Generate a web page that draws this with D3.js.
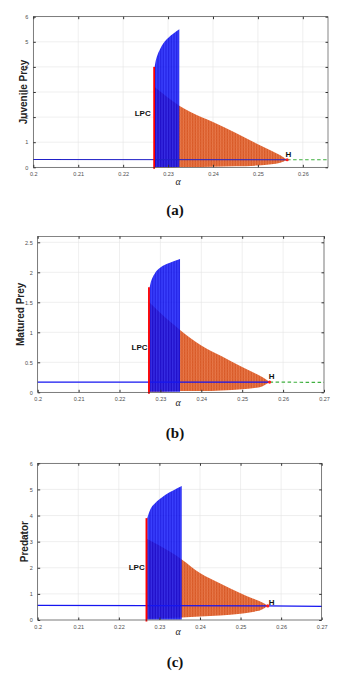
<!DOCTYPE html>
<meta charset="utf-8">
<style>
body { margin: 0; background: #fff; }
svg { display: block; }
.tick text { font-family: "Liberation Sans", Arial, sans-serif; font-size: 5.5px; fill: #4d4d4d; }
.ytitle { font-family: "Liberation Sans", Arial, sans-serif; font-size: 10px; font-weight: bold; fill: #222; }
.xtitle { font-family: "Liberation Serif", "DejaVu Serif", serif; font-size: 10px; font-style: italic; fill: #222; }
.tag { font-family: "Liberation Sans", Arial, sans-serif; font-size: 8px; font-weight: bold; fill: #111; }
.sub { font-family: "Liberation Serif", "DejaVu Serif", serif; font-size: 15px; font-weight: bold; fill: #111; }
</style>
<body>
<script src="https://d3js.org/d3.v7.min.js"></script>
<script>

// ---- data ----
var panelLabels = ["(a)", "(b)", "(c)"];
var yTitles = ["Juvenile Prey", "Matured Prey", "Predator"];

var xTicksA = [0.2, 0.21, 0.22, 0.23, 0.24, 0.25, 0.26];
var xTicksBC = [0.2, 0.21, 0.22, 0.23, 0.24, 0.25, 0.26, 0.27];
var yTicksA = [0, 1, 2, 3, 4, 5, 6];
var yTicksB = [0, 0.5, 1, 1.5, 2, 2.5];
var yTicksC = [0, 1, 2, 3, 4, 5, 6];

// (a) juvenile prey
var juvStableAlpha = [0.2270, 0.2272, 0.2276, 0.2282, 0.2290, 0.2300, 0.2312, 0.2325];
var juvStableMax   = [4.0, 4.2, 4.45, 4.7, 4.95, 5.15, 5.33, 5.5];
var juvStableMin   = [0.01, 0.01, 0.01, 0.01, 0.01, 0.01, 0.01, 0.01];
var juvUnstableAlpha = [0.2270, 0.2298, 0.2325, 0.2350, 0.2400, 0.2450, 0.2500, 0.2530, 0.2550, 0.2565];
var juvUnstableMax   = [3.2, 2.8, 2.45, 2.2, 1.8, 1.38, 0.92, 0.66, 0.48, 0.3];
var juvUnstableMin   = [0.0, 0.0, 0.01, 0.01, 0.02, 0.04, 0.07, 0.12, 0.18, 0.3];
var juvEqAlpha = [0.2, 0.2565];
var juvEqValue = [0.31, 0.3];
var juvUnstEqAlpha = [0.2565, 0.2656];
var juvUnstEqValue = [0.3, 0.3];
var juvLPC = [0.2269, 4.0];
var juvHopf = [0.2565, 0.3];

// (b) matured prey
var matStableAlpha = [0.2273, 0.2276, 0.2280, 0.2287, 0.2300, 0.2320, 0.2348];
var matStableMax   = [1.72, 1.82, 1.9, 1.99, 2.08, 2.15, 2.22];
var matStableMin   = [0.01, 0.01, 0.01, 0.01, 0.01, 0.01, 0.01];
var matUnstableAlpha = [0.2273, 0.2300, 0.2348, 0.2400, 0.2450, 0.2500, 0.2530, 0.2550, 0.2567];
var matUnstableMax   = [1.5, 1.32, 1.04, 0.78, 0.6, 0.42, 0.32, 0.25, 0.17];
var matUnstableMin   = [0.01, 0.01, 0.02, 0.02, 0.03, 0.05, 0.07, 0.1, 0.17];
var matEqAlpha = [0.2, 0.2567];
var matEqValue = [0.17, 0.17];
var matUnstEqAlpha = [0.2567, 0.27];
var matUnstEqValue = [0.17, 0.165];
var matLPC = [0.2272, 1.75];
var matHopf = [0.2567, 0.17];

// (c) predator
var predStableAlpha = [0.2270, 0.2273, 0.2278, 0.2288, 0.2300, 0.2315, 0.2335, 0.2355];
var predStableMax   = [3.9, 4.05, 4.25, 4.45, 4.62, 4.8, 4.97, 5.13];
var predStableMin   = [0.02, 0.02, 0.02, 0.02, 0.02, 0.02, 0.02, 0.02];
var predUnstableAlpha = [0.2270, 0.2300, 0.2355, 0.2400, 0.2450, 0.2500, 0.2530, 0.2550, 0.2567];
var predUnstableMax   = [3.1, 2.85, 2.32, 1.8, 1.4, 1.02, 0.82, 0.7, 0.55];
var predUnstableMin   = [0.05, 0.07, 0.1, 0.13, 0.17, 0.24, 0.31, 0.38, 0.55];
var predEqAlpha = [0.2, 0.2567, 0.27];
var predEqValue = [0.56, 0.54, 0.52];
var predLPC = [0.2268, 3.9];
var predHopf = [0.2567, 0.54];

// ---- layout ----
var W = 347, H = 674;
var svg = d3.select("body").append("svg").attr("width", W).attr("height", H);

var defs = svg.append("defs");
var op = defs.append("pattern").attr("id", "orangeHatch")
    .attr("patternUnits", "userSpaceOnUse").attr("width", 1.6).attr("height", 3);
op.append("rect").attr("width", 1.6).attr("height", 3).attr("fill", "#e87444");
op.append("rect").attr("width", 0.8).attr("height", 3).attr("fill", "#d44e18");
op.append("rect").attr("width", 1.6).attr("height", 0.6).attr("fill", "#de6430").attr("opacity", 0.6);

var bp = defs.append("pattern").attr("id", "blueHatch")
    .attr("patternUnits", "userSpaceOnUse").attr("width", 1.6).attr("height", 3);
bp.append("rect").attr("width", 1.6).attr("height", 3).attr("fill", "#1c24ff");
bp.append("rect").attr("width", 0.8).attr("height", 3).attr("fill", "#0000e0");

function zip(a, b, c) {
  return a.map(function(d, i) { return {x: d, hi: b[i], lo: c ? c[i] : 0}; });
}

var panels = [
  {box: [33.3, 16.7, 328, 167.3], xDom: [0.2, 0.2656], yDom: [0, 6], xTicks: xTicksA, yTicks: yTicksA,
   stable: zip(juvStableAlpha, juvStableMax, juvStableMin),
   unstable: zip(juvUnstableAlpha, juvUnstableMax, juvUnstableMin),
   eq: zip(juvEqAlpha, juvEqValue), eqColor: "#2020c8",
   unEq: zip(juvUnstEqAlpha, juvUnstEqValue),
   lpc: juvLPC, hopf: juvHopf, lpcPos: [142.7, 116], hPos: [288.5, 157],
   yTitleX: 23, xTitleY: 185, subY: 215},
  {box: [37.7, 236.3, 324, 392.3], xDom: [0.2, 0.27], yDom: [0, 2.6], xTicks: xTicksBC, yTicks: yTicksB,
   stable: zip(matStableAlpha, matStableMax, matStableMin),
   unstable: zip(matUnstableAlpha, matUnstableMax, matUnstableMin),
   eq: zip(matEqAlpha, matEqValue), eqColor: "#1515f0",
   unEq: zip(matUnstEqAlpha, matUnstEqValue),
   lpc: matLPC, hopf: matHopf, lpcPos: [139.5, 349.5], hPos: [271.7, 378.5],
   yTitleX: 20.7, xTitleY: 406, subY: 438},
  {box: [37.7, 463.3, 321.7, 620], xDom: [0.2, 0.27], yDom: [0, 6], xTicks: xTicksBC, yTicks: yTicksC,
   stable: zip(predStableAlpha, predStableMax, predStableMin),
   unstable: zip(predUnstableAlpha, predUnstableMax, predUnstableMin),
   eq: zip(predEqAlpha, predEqValue), eqColor: "#1515f0",
   unEq: null,
   lpc: predLPC, hopf: predHopf, lpcPos: [136.7, 569.5], hPos: [271.7, 605],
   yTitleX: 24, xTitleY: 634.5, subY: 667}
];

panels.forEach(function(p, i) {
  var x = d3.scaleLinear().domain(p.xDom).range([p.box[0], p.box[2]]);
  var y = d3.scaleLinear().domain(p.yDom).range([p.box[3], p.box[1]]);
  var g = svg.append("g");

  // grid
  g.append("g").selectAll("line").data(p.xTicks).join("line")
    .attr("x1", x).attr("x2", x).attr("y1", p.box[1]).attr("y2", p.box[3])
    .attr("stroke", "#e4e4e4").attr("stroke-width", 0.6);
  g.append("g").selectAll("line").data(p.yTicks).join("line")
    .attr("y1", y).attr("y2", y).attr("x1", p.box[0]).attr("x2", p.box[2])
    .attr("stroke", "#e4e4e4").attr("stroke-width", 0.6);

  var area = d3.area().curve(d3.curveMonotoneX)
    .x(function(d) { return x(d.x); })
    .y0(function(d) { return y(d.lo); })
    .y1(function(d) { return y(d.hi); });

  // unstable limit cycles (orange), stable limit cycles (blue) on top
  g.append("path").datum(p.unstable).attr("d", area)
    .attr("fill", "url(#orangeHatch)").attr("opacity", 0.95);
  g.append("path").datum(p.stable).attr("d", area)
    .attr("fill", "url(#blueHatch)").attr("opacity", 0.86);

  var line = d3.line().x(function(d) { return x(d.x); }).y(function(d) { return y(d.hi); });

  // equilibrium branch
  g.append("path").datum(p.eq).attr("d", line)
    .attr("fill", "none").attr("stroke", p.eqColor).attr("stroke-width", 1.1);
  if (p.unEq) {
    g.append("path").datum(p.unEq).attr("d", line)
      .attr("fill", "none").attr("stroke", "#3fb03f").attr("stroke-width", 1.2)
      .attr("stroke-dasharray", "3.5,2.5");
  }

  // limit point of cycles
  g.append("line")
    .attr("x1", x(p.lpc[0])).attr("x2", x(p.lpc[0]))
    .attr("y1", y(0) + 1.5).attr("y2", y(p.lpc[1]))
    .attr("stroke", "#ff0000").attr("stroke-width", 1.8);

  // Hopf point
  g.append("circle").attr("cx", x(p.hopf[0])).attr("cy", y(p.hopf[1]))
    .attr("r", 1.6).attr("fill", "#ff1a1a");

  g.append("text").attr("class", "tag").attr("x", p.lpcPos[0]).attr("y", p.lpcPos[1])
    .attr("text-anchor", "middle").text("LPC");
  g.append("text").attr("class", "tag").attr("x", p.hPos[0]).attr("y", p.hPos[1])
    .attr("text-anchor", "middle").text("H");

  // axes with inward ticks, boxed
  var h = p.box[3] - p.box[1], w = p.box[2] - p.box[0];
  g.append("g").attr("transform", "translate(0," + p.box[3] + ")")
    .call(d3.axisBottom(x).tickValues(p.xTicks).tickSizeInner(-2.5).tickSizeOuter(0).tickPadding(5)
      .tickFormat(d3.format("")))
    .call(function(s) { s.select(".domain").remove(); s.selectAll("line").attr("stroke", "#333"); });
  g.append("g").attr("transform", "translate(" + p.box[0] + ",0)")
    .call(d3.axisLeft(y).tickValues(p.yTicks).tickSizeInner(-2.5).tickSizeOuter(0).tickPadding(5)
      .tickFormat(d3.format("")))
    .call(function(s) { s.select(".domain").remove(); s.selectAll("line").attr("stroke", "#333"); });
  g.append("g").attr("transform", "translate(0," + p.box[1] + ")")
    .call(d3.axisTop(x).tickValues(p.xTicks).tickSizeInner(-2.5).tickSizeOuter(0).tickFormat(""))
    .call(function(s) { s.select(".domain").remove(); s.selectAll("line").attr("stroke", "#333"); });
  g.append("g").attr("transform", "translate(" + p.box[2] + ",0)")
    .call(d3.axisRight(y).tickValues(p.yTicks).tickSizeInner(-2.5).tickSizeOuter(0).tickFormat(""))
    .call(function(s) { s.select(".domain").remove(); s.selectAll("line").attr("stroke", "#333"); });
  g.append("rect").attr("x", p.box[0]).attr("y", p.box[1]).attr("width", w).attr("height", h)
    .attr("fill", "none").attr("stroke", "#333").attr("stroke-width", 0.6);

  // titles
  var yc = (p.box[1] + p.box[3]) / 2;
  g.append("text").attr("class", "ytitle")
    .attr("transform", "translate(" + p.yTitleX + "," + yc + ") rotate(-90)")
    .attr("text-anchor", "middle").attr("dy", "0.35em").text(yTitles[i]);
  g.append("text").attr("class", "xtitle").attr("x", 178).attr("y", p.xTitleY)
    .attr("text-anchor", "middle").text("\u03b1");
  g.append("text").attr("class", "sub").attr("x", 175).attr("y", p.subY)
    .attr("text-anchor", "middle").text(panelLabels[i]);
});

</script>
</body>
